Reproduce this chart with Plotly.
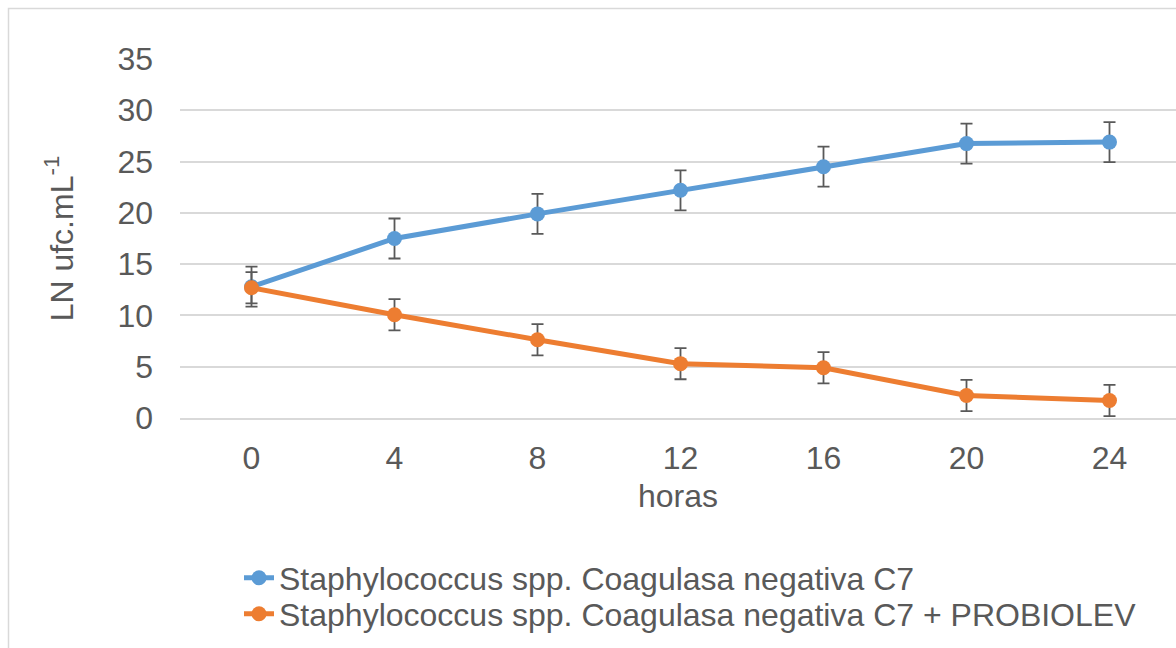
import plotly.graph_objects as go

hours = ["0", "4", "8", "12", "16", "20", "24"]
c7 = [12.8, 17.5, 19.9, 22.2, 24.5, 26.75, 26.9]
c7_err = [1.95, 1.95, 1.95, 1.95, 1.95, 1.95, 1.95]
c7_pro = [12.7, 10.07, 7.63, 5.3, 4.9, 2.2, 1.7]
c7_pro_err = [1.52, 1.52, 1.52, 1.52, 1.52, 1.52, 1.52]
names = ["Staphylococcus spp. Coagulasa negativa C7",
         "Staphylococcus spp. Coagulasa negativa C7 + PROBIOLEV"]
y_ticks = [0, 5, 10, 15, 20, 25, 30, 35]

FONT = "Liberation Sans, Arial, sans-serif"
TXT = "#595959"
GRID = "#D9D9D9"
BLUE = "#5B9BD5"
ORANGE = "#ED7D31"
FS = 32

xpos = list(range(len(hours)))

fig = go.Figure()
fig.add_trace(go.Scatter(
    x=xpos, y=c7, name=names[0], mode="lines+markers",
    line=dict(color=BLUE, width=5), marker=dict(color=BLUE, size=15),
    error_y=dict(type="data", array=c7_err, color=TXT, thickness=1.8, width=6),
    legend="legend",
))
fig.add_trace(go.Scatter(
    x=xpos, y=c7_pro, name=names[1], mode="lines+markers",
    line=dict(color=ORANGE, width=5), marker=dict(color=ORANGE, size=15),
    error_y=dict(type="data", array=c7_pro_err, color=TXT, thickness=1.8, width=6),
    legend="legend2",
))

W, H = 1176, 648
L, T, B = 180, 59, 230
pw = W - L
ph = H - T - B

def py(pix):
    return (H - B - pix) / ph

def px(pix):
    return (pix - L) / pw

fig.update_layout(
    width=W, height=H,
    margin=dict(l=L, r=0, t=T, b=B),
    paper_bgcolor="white", plot_bgcolor="white",
    font=dict(family=FONT, color=TXT, size=FS),
    xaxis=dict(
        range=[-0.5, -0.5 + pw / 143.0],
        tickvals=xpos, ticktext=hours,
        showgrid=False, zeroline=False,
        showline=True, linecolor=GRID, linewidth=1.5,
        ticks="", ticklabelstandoff=11,
        tickfont=dict(size=FS, color=TXT, family=FONT),
        title=dict(text="horas", font=dict(size=FS, color=TXT, family=FONT), standoff=9),
    ),
    yaxis=dict(
        range=[0, 35], tickvals=y_ticks,
        showgrid=True, gridcolor=GRID, gridwidth=1.5,
        zeroline=False, showline=False, ticks="",
        ticklabelstandoff=26,
        tickfont=dict(size=FS, color=TXT, family=FONT),
        title=dict(text="LN ufc.mL<sup>-1</sup>", font=dict(size=FS, color=TXT, family=FONT), standoff=34),
    ),
    showlegend=True,
    legend=dict(x=px(239), y=py(578), xanchor="left", yanchor="middle",
                font=dict(size=FS, color=TXT, family=FONT), bgcolor="rgba(0,0,0,0)"),
    legend2=dict(x=px(239), y=py(614), xanchor="left", yanchor="middle",
                 font=dict(size=FS, color=TXT, family=FONT), bgcolor="rgba(0,0,0,0)"),
    shapes=[dict(type="rect", xref="paper", yref="paper",
                 x0=px(8.5), x1=1.2, y0=-1.0, y1=py(8.5),
                 line=dict(color=GRID, width=1.5), fillcolor="rgba(0,0,0,0)", layer="below")],
)

fig.write_html(
    "out.html",
    config={"displayModeBar": False},
    post_script="document.body.style.margin='0';document.body.style.overflow='hidden';",
)
